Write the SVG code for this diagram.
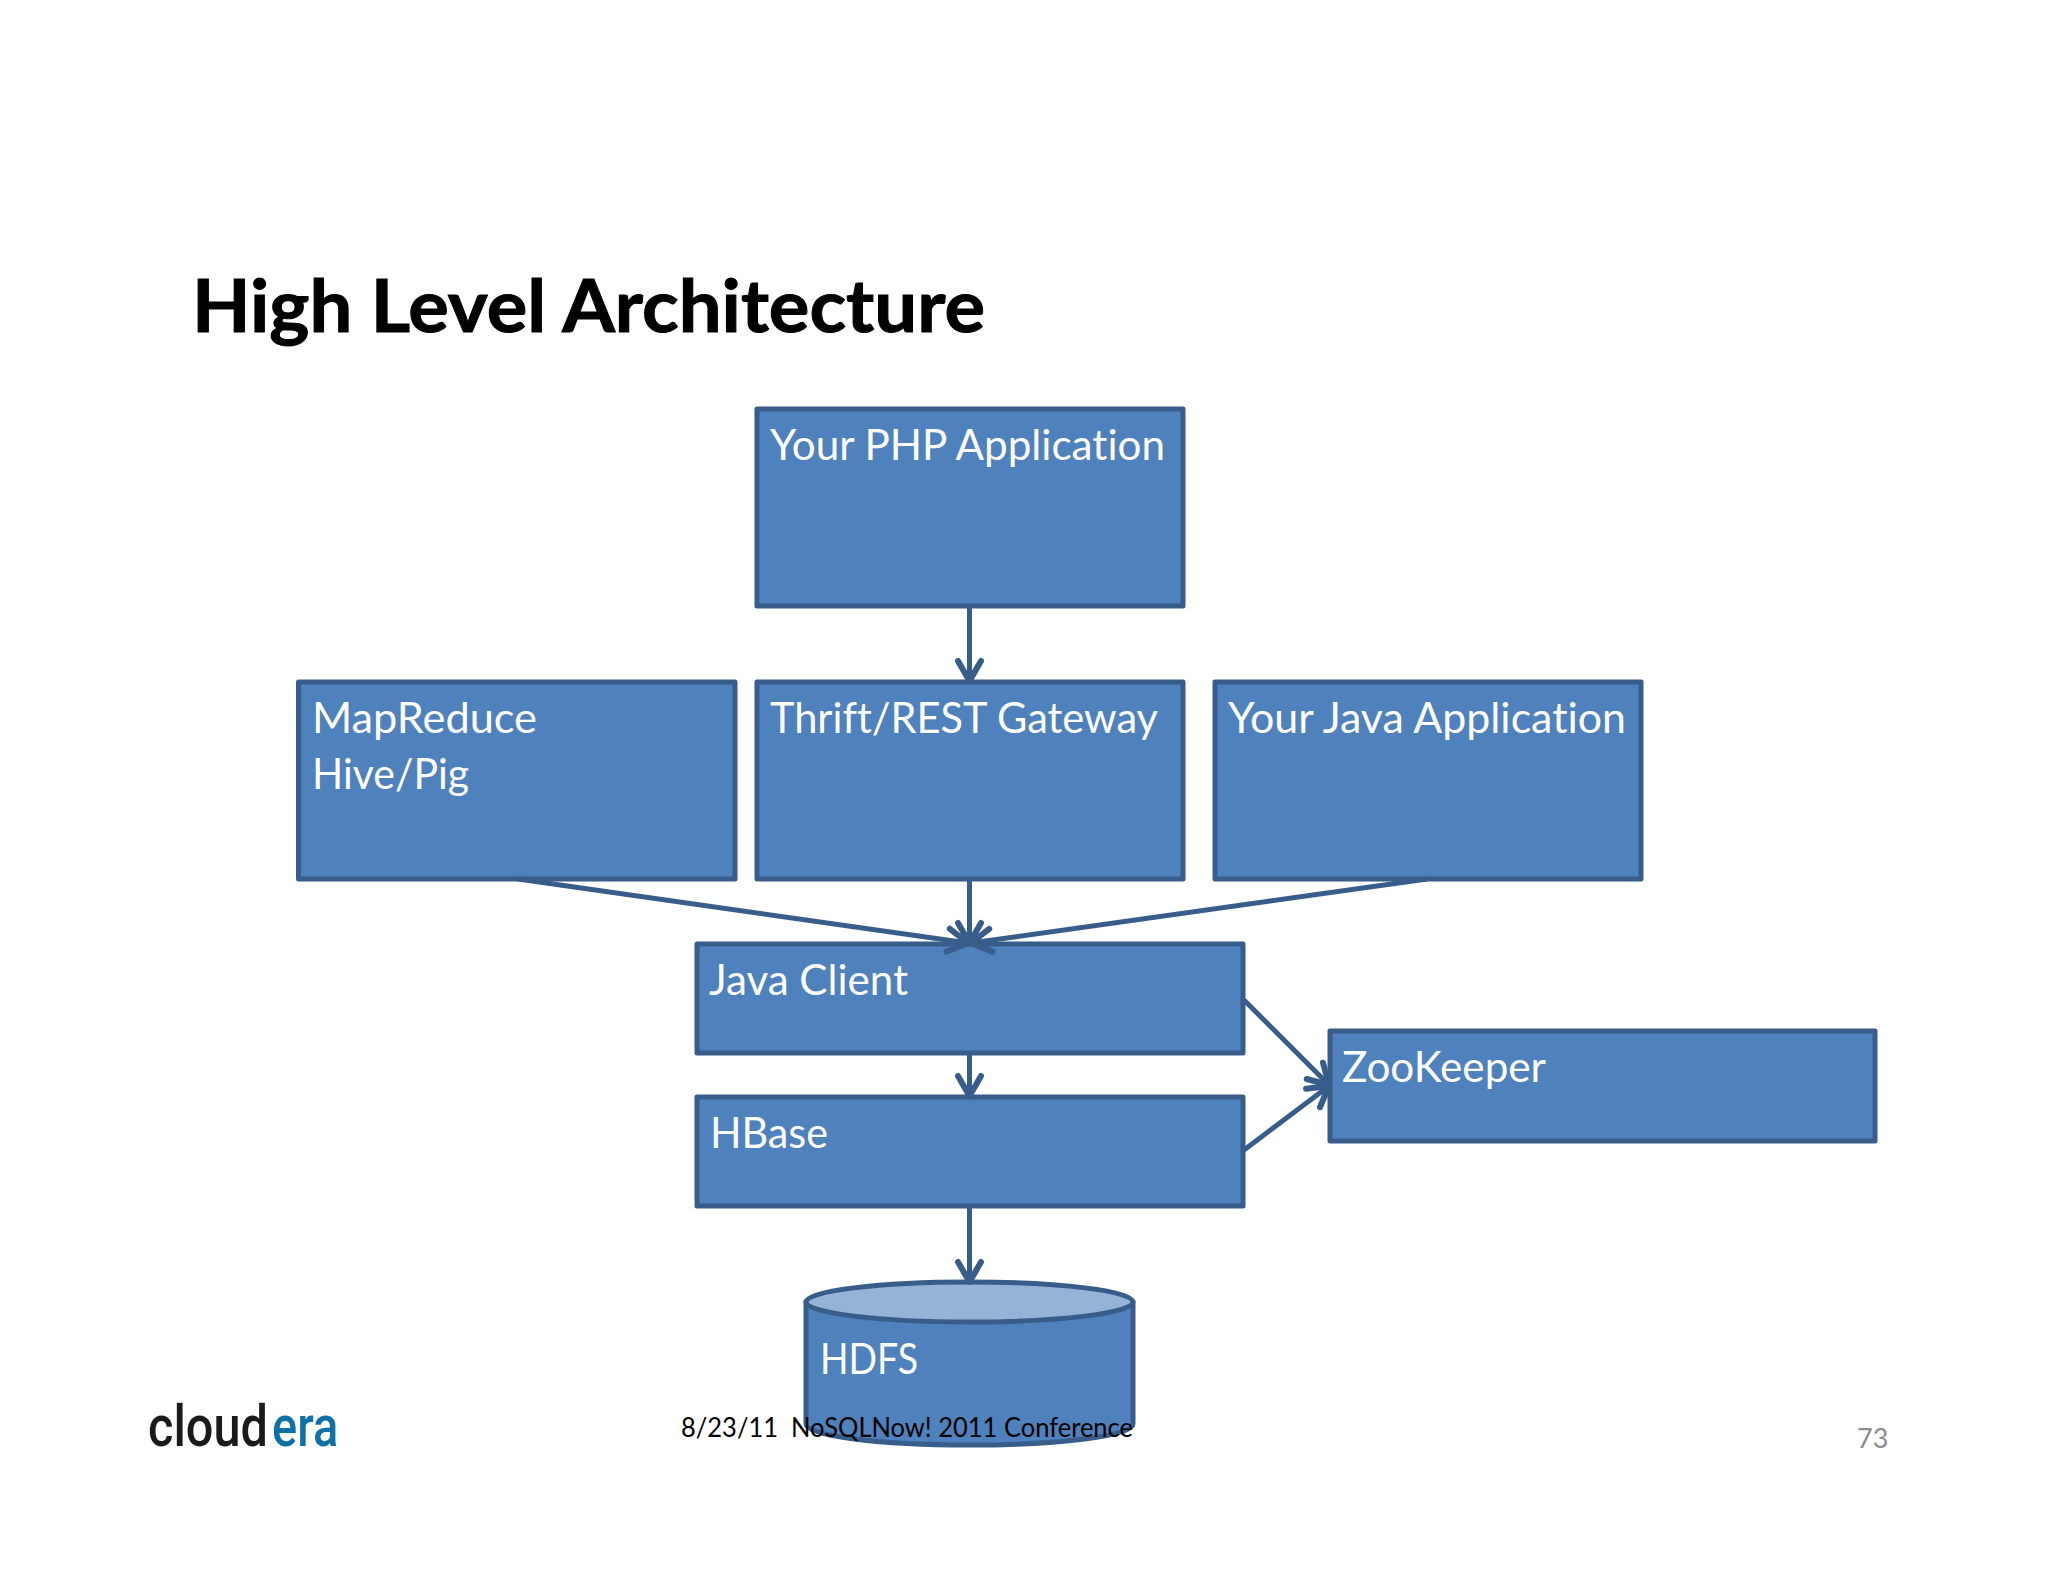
<svg xmlns="http://www.w3.org/2000/svg" width="2048" height="1582" viewBox="0 0 2048 1582">
<defs>
<marker id="a" markerUnits="userSpaceOnUse" markerWidth="40" markerHeight="40" refX="23" refY="14" orient="auto" overflow="visible"><path d="M3 2.500 L23 14 L3 25.500" fill="none" stroke="#385d8a" stroke-width="6" stroke-linecap="round" stroke-linejoin="round"/></marker>
</defs>
<style>
text{font-variant-ligatures:none}
.n{fill:#4f81bd;stroke:#385d8a;stroke-width:5;stroke-linejoin:round}
.t{font-family:Lato,"Liberation Sans",sans-serif;font-size:42px;fill:#fff}
.c{fill:none;stroke:#385d8a;stroke-width:5;marker-end:url(#a)}
.f{font-family:Lato,"Liberation Sans",sans-serif;font-size:27px}
.l{font-family:Roboto,"Liberation Sans",sans-serif;font-size:58px;font-weight:500}
</style>
<rect width="2048" height="1582" fill="#fff"/>
<text id="title" x="192" y="332" font-family="Lato,'Liberation Sans',sans-serif" font-weight="700" font-size="73" fill="#000" stroke="#000" stroke-width="1" textLength="793" lengthAdjust="spacingAndGlyphs">High Level Architecture</text>
<g id="php"><rect class="n" x="757" y="409" width="426" height="197"/><text class="t" x="770" y="460" textLength="395" lengthAdjust="spacingAndGlyphs">Your PHP Application</text></g>
<g id="mapreduce"><rect class="n" x="298.500" y="682" width="436.500" height="197"/><text class="t" x="312" y="733" textLength="225" lengthAdjust="spacingAndGlyphs">MapReduce</text><text class="t" x="312" y="789" textLength="157" lengthAdjust="spacingAndGlyphs">Hive/Pig</text></g>
<g id="thrift"><rect class="n" x="757" y="682" width="426" height="197"/><text class="t" x="770" y="733" textLength="388" lengthAdjust="spacingAndGlyphs">Thrift/REST Gateway</text></g>
<g id="javaapp"><rect class="n" x="1215" y="682" width="426" height="197"/><text class="t" x="1228" y="733" textLength="398" lengthAdjust="spacingAndGlyphs">Your Java Application</text></g>
<g id="javaclient"><rect class="n" x="697" y="944" width="546" height="109"/><text class="t" x="709" y="995" textLength="199" lengthAdjust="spacingAndGlyphs">Java Client</text></g>
<g id="hbase"><rect class="n" x="697" y="1097" width="546" height="109"/><text class="t" x="710" y="1148" textLength="118" lengthAdjust="spacingAndGlyphs">HBase</text></g>
<g id="zookeeper"><rect class="n" x="1330" y="1031" width="545" height="110"/><text class="t" x="1342" y="1082" textLength="204" lengthAdjust="spacingAndGlyphs">ZooKeeper</text></g>
<g id="hdfs"><path class="n" d="M806 1302 V1424 C806 1436 880 1445 969.500 1445 C1059 1445 1133 1436 1133 1424 V1302 Z"/><ellipse cx="969.500" cy="1302" rx="163.500" ry="20" fill="#95b3d7" stroke="#385d8a" stroke-width="5"/><text class="t" x="820" y="1374" textLength="98" lengthAdjust="spacingAndGlyphs">HDFS</text></g>
<g id="connectors">
<path class="c" d="M969.500 606 V681"/>
<path class="c" d="M518 879 L968 943"/>
<path class="c" d="M969.500 879 V943"/>
<path class="c" d="M1427 879 L971 943"/>
<path class="c" d="M969.500 1053 V1096"/>
<path class="c" d="M969.500 1206 V1282"/>
<path class="c" d="M1244 1000 L1329 1085"/>
<path class="c" d="M1244 1150 L1329 1086"/>
</g>
<text id="footer" class="f" x="681" y="1437" fill="#000" textLength="452" lengthAdjust="spacingAndGlyphs" xml:space="preserve">8/23/11  NoSQLNow! 2011 Conference</text>
<text id="page" class="f" x="1857" y="1448" fill="#8c8c8c">73</text>
<text id="logo-a" class="l" transform="translate(148 1446) scale(.85 1)" fill="#1a1a1a" textLength="141" lengthAdjust="spacingAndGlyphs">cloud</text>
<text id="logo-b" class="l" transform="translate(272 1446) scale(.85 1)" fill="#0f70a8" textLength="78" lengthAdjust="spacingAndGlyphs">era</text>
</svg>
